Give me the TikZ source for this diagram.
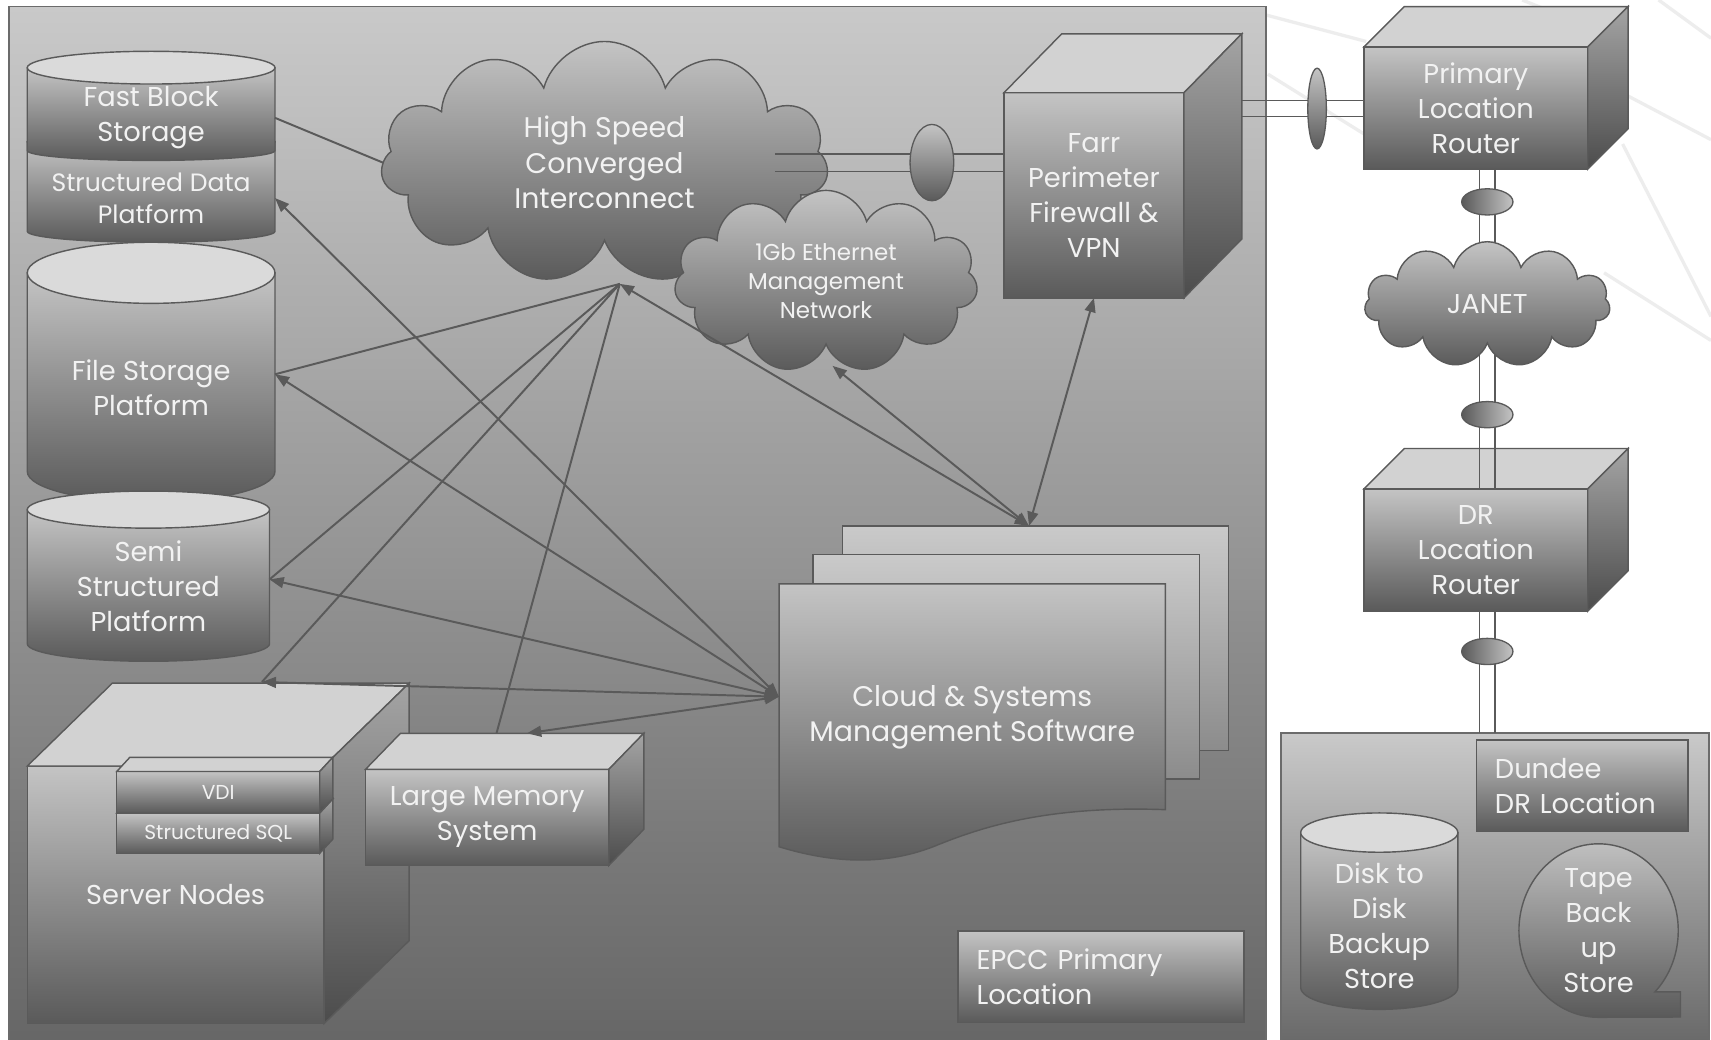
\documentclass[tikz,border=0pt]{standalone}
\usepackage{fontspec}
\setmainfont{Poppins}
\usetikzlibrary{calc}
\usetikzlibrary{arrows.meta}
\usetikzlibrary{shapes.geometric}
\usetikzlibrary{shapes.symbols}

\definecolor{edge}{HTML}{5A5A5A}
\definecolor{lite}{HTML}{F2F2F2}
\definecolor{capgray}{HTML}{DADADA}
\definecolor{topgray}{HTML}{D2D2D2}
\definecolor{hiA}{HTML}{C4C4C4}
\definecolor{loA}{HTML}{5A5A5A}
\definecolor{sideA}{HTML}{A4A4A4}
\definecolor{sideB}{HTML}{4C4C4C}
\definecolor{zoneA}{HTML}{C9C9C9}
\definecolor{zoneB}{HTML}{656565}

\tikzset{
  face/.style={draw=edge, line width=1.3pt, top color=hiA, bottom color=loA,
    inner sep=0pt, outer sep=0pt, text=lite, align=center,
    font=\fontsize{25}{32}\selectfont},
  lid/.style={draw=edge, line width=1.3pt, fill=topgray},
  flank/.style={draw=edge, line width=1.3pt, top color=sideA, bottom color=sideB},
  drumtop/.style={draw=edge, line width=1.3pt, fill=capgray},
  zone/.style={draw=edge!90, line width=1.5pt, top color=zoneA, bottom color=zoneB},
  page/.style={draw=edge, line width=1.3pt, top color=hiA!90!white, bottom color=loA!70!white},
  slot/.style={text=lite, align=center, inner sep=0pt, outer sep=0pt,
    font=\fontsize{25}{32}\selectfont},
  tag/.style={face, align=left, inner xsep=17pt},
  cloudy/.style={face, cloud, cloud puffs=11, cloud ignores aspect},
  vring/.style={ellipse, draw=edge, line width=1.2pt, top color=hiA, bottom color=loA},
  hring/.style={ellipse, draw=edge, line width=1.2pt, left color=loA, right color=hiA,
    minimum width=47pt, minimum height=24pt},
  link/.style={draw=edge, line width=1.8pt},
  twoway/.style={link, {Triangle[length=13pt,width=10pt]}-{Triangle[length=13pt,width=10pt]}},
  faint/.style={draw=black!7, line width=3pt}
}

\newcommand{\cubeside}[3]{%
  \draw[lid] (#1.north west) -- ++(#2,-#3) -- ($(#1.north east)+(#2,-#3)$) -- (#1.north east) -- cycle;
  \draw[flank] (#1.north east) -- ++(#2,-#3) -- ($(#1.south east)+(#2,-#3)$) -- (#1.south east) -- cycle;
}
\newcommand{\drum}[6]{%
  \draw[face] ({#1-#4},#2) -- ({#1-#4},#3) arc[start angle=180, end angle=360, x radius=#4pt, y radius=#6pt] -- ({#1+#4},#2) -- cycle;
  \draw[drumtop] (#1,#2) ellipse[x radius=#4pt, y radius=#5pt];
}

\begin{document}
\begin{tikzpicture}[x=1pt, y=-1pt]
\useasboundingbox (0,0) rectangle (1568,953);
\fill[white] (0,0) rectangle (1568,953);

\foreach \a/\b in {{1146,10}/{1252,38}, {1162,68}/{1252,124}, {1492,88}/{1568,128},
  {1487,132}/{1568,290}, {1470,250}/{1568,312}, {1395,0}/{1450,22}, {1520,0}/{1568,35}}
\draw[faint] (\a) -- (\b);

\draw[zone] (8,6) rectangle (1160,968);
\draw[zone] (1174,672) rectangle (1566,968);

\drum{138.5}{130}{212}{113.5}{10}{10}
\drum{138.5}{62}{138}{113.5}{15}{9}
\drum{138.5}{250}{432}{113.5}{28}{28}
\drum{136}{467}{590}{111}{17}{16}
\drum{1264}{763}{905}{72}{18}{20}

\node[slot, minimum width=227pt, font=\fontsize{23}{29}\selectfont] (sdp) at (138.5,181.5) {Structured Data\\Platform};
\node[slot, minimum width=227pt] (fbs) at (138.5,108) {Fast Block\\Storage};
\node[slot, minimum width=227pt] (fsp) at (138.5,355) {File Storage\\Platform};
\node[slot, minimum width=222pt] (ssp) at (136,537) {Semi\\Structured\\Platform};
\node[slot, minimum width=144pt] (d2d) at (1264,848.5) {Disk to\\Disk\\Backup\\Store};

\node[face, minimum width=272pt, minimum height=236pt] (srv) at (161,820) {Server Nodes};
\cubeside{srv}{78}{76}
\node[face, minimum width=186pt, minimum height=37pt, font=\fontsize{18.5}{22}\selectfont] (sql) at (200,763.5) {Structured SQL};
\cubeside{sql}{12}{13}
\node[face, minimum width=186pt, minimum height=38pt, font=\fontsize{18.5}{22}\selectfont] (vdi) at (200,726) {VDI};
\cubeside{vdi}{12}{13}
\node[face, minimum width=223pt, minimum height=88pt] (lms) at (446.5,749) {Large Memory\\System};
\cubeside{lms}{32}{33}

\foreach \dx/\dy in {58/53, 31/27}
\draw[page] (714+\dx,535-\dy) rectangle ++(354,206);
\draw[face] (714,535) -- (1068,535) -- (1068,742) .. controls (960,738) and (900,758) .. (860,774)
  .. controls (810,795) and (760,790) .. (714,776) -- cycle;
\node[inner sep=0pt, minimum width=354pt, minimum height=207pt] (csm) at (891,638.5) {};
\node[slot, font=\fontsize{26}{32}\selectfont] (csmtxt) at (891,657) {Cloud \& Systems\\Management Software};

\node[cloudy, minimum width=410pt, minimum height=222pt, font=\fontsize{26}{32.5}\selectfont] (hsci) at (554,149) {High Speed\\Converged\\Interconnect};
\node[cloudy, minimum width=278pt, minimum height=167pt, font=\fontsize{21}{26.5}\selectfont] (mgmt) at (757,258) {1Gb Ethernet\\Management\\Network};

\node[face, minimum width=165pt, minimum height=188pt] (farr) at (1002.5,179) {Farr\\Perimeter\\Firewall \&\\VPN};
\cubeside{farr}{53}{54}
\coordinate (hsciport) at (710,149);
\foreach \s in {-8,8}
\draw[link, line width=1.3pt] ($(hsciport)+(0,\s)$) -- ($(hsciport -| farr.west)+(0,\s)$);
\node[vring, minimum width=40pt, minimum height=70pt] (ring1) at (854,149) {};

\node[face, minimum width=205pt, minimum height=112pt] (primary) at (1352.5,99) {Primary\\Location\\Router};
\cubeside{primary}{37}{37}
\node[face, minimum width=205pt, minimum height=112pt] (dr) at (1352.5,504) {DR\\Location\\Router};
\cubeside{dr}{37}{37}
\coordinate (farrport) at (1138,99.5);
\coordinate (drsite) at (1363,672);
\foreach \s in {-7.5,7.5}
\draw[link, line width=1.3pt] ($(farrport)+(0,\s)$) -- ($(farrport -| primary.west)+(0,\s)$);
\foreach \s in {-7,7} {
\draw[link, line width=1.3pt] ($(primary.south)+(10.5+\s,0)$) -- ($(dr.north)+(10.5+\s,0)$);
\draw[link, line width=1.3pt] ($(dr.south)+(10.5+\s,0)$) -- ($(drsite)+(\s,0)$);
}
\node[vring, minimum width=17pt, minimum height=74pt] (ring2) at (1207,99.5) {};
\node[cloudy, minimum width=225pt, minimum height=115pt] (janet) at (1363,279) {JANET};
\foreach \n/\y in {ring3/185, ring4/380, ring5/597}
\node[hring] (\n) at (1363,\y) {};

\node[tag, minimum width=262pt, minimum height=84pt, text width=228pt] (epcc) at (1009,895) {EPCC Primary\\Location};
\node[tag, minimum width=194pt, minimum height=84pt, text width=160pt] (dundee) at (1450,720) {Dundee\\DR Location};
\draw[face] (1516.6,909) arc[start angle=-45, end angle=270, x radius=73pt, y radius=79.5pt]
  -- (1540,932) -- (1540,909) -- cycle;
\node[slot] (tape) at (1465,853) {Tape\\Back\\up\\Store};

\coordinate (fspport) at ([yshift=12pt]fsp.east);
\coordinate (sspport) at ([yshift=6pt]ssp.east);
\coordinate (srvtop) at (240,625);
\coordinate (lmstop) at (483,672);
\coordinate (lmsrear) at (455,672);
\coordinate (csmtop) at (943,482);
\coordinate (hscitip) at ([xshift=14pt,yshift=-40pt]hsci.south);
\coordinate (mgmtbase) at ([xshift=6pt,yshift=-20pt]mgmt.south);

\draw[link] (fbs.east) -- (hsci.west);
\foreach \t in {sdp.east, fspport, sspport, srvtop, lmstop}
\draw[twoway] (csm.west) -- (\t);
\foreach \t in {fspport, sspport, srvtop, lmsrear}
\draw[link] (hscitip) -- (\t);
\draw[twoway] (hscitip) -- (csmtop);
\draw[twoway] (mgmtbase) -- (csmtop);
\draw[twoway] (farr.south) -- (csmtop);

\end{tikzpicture}
\end{document}
